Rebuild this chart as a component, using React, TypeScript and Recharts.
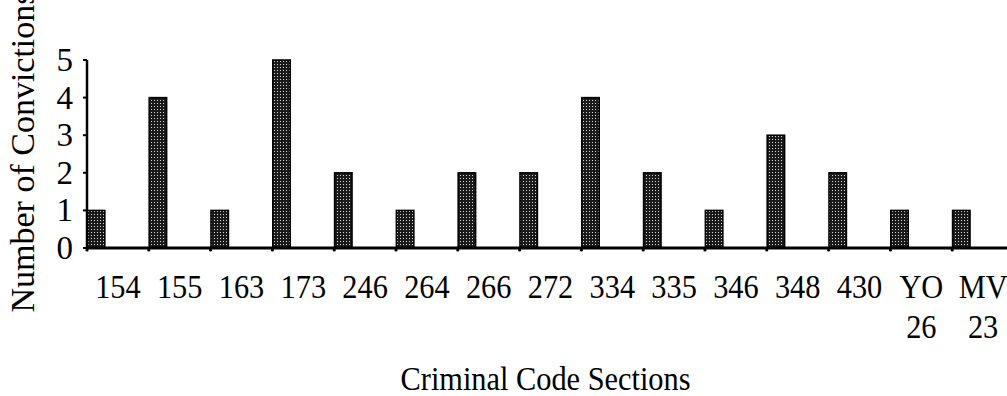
import React from 'react';
import { BarChart, Bar, XAxis, YAxis } from 'recharts';

// Criminal code sections and conviction counts
const sections = ['154', '155', '163', '173', '246', '264', '266', '272', '334', '335', '346', '348', '430', 'YO 26', 'MV 23'];
const convictions = [1, 4, 1, 5, 2, 1, 2, 2, 4, 2, 1, 3, 2, 1, 1];
const yTicks = [0, 1, 2, 3, 4, 5];

const data = sections.map((section, i) => ({ section, count: convictions[i] }));

const FONT = '"Liberation Serif", "Times New Roman", serif';
const FS = 33;
const SQUEEZE = 0.92;
const CHART_W = 1030;
const LEFT = 87;
const RIGHT_MARGIN = 16;
const PLOT_W = CHART_W - LEFT - RIGHT_MARGIN;
const BAND = PLOT_W / sections.length;
const BAR_W = 17.5;

// text slightly narrower than the font, like the scanned original
const SText = ({ x, y, anchor = 'middle', children }: any) => (
  <text
    transform={`translate(${x} ${y}) scale(${SQUEEZE} 1)`}
    textAnchor={anchor}
    fontFamily={FONT}
    fontSize={FS}
    fill="#000"
  >
    {children}
  </text>
);

// bars sit at the left edge of each band, not centred
const LeftBar = (props: any) => {
  const { x, y, width, height } = props;
  if (!height) return null;
  const shift = (BAND - width) / 2 - 0.5;
  return (
    <rect x={x - shift} y={y} width={width} height={height} fill="url(#stipple)" stroke="#000" strokeWidth={1.5} />
  );
};

const SectionTick = (props: any) => {
  const { x, payload } = props;
  const lines = String(payload.value).split(' ');
  return (
    <g>
      <circle cx={x - BAND / 2} cy={250} r={1.6} fill="#000" />
      {lines.map((l, i) => (
        <SText key={i} x={x} y={298 + i * 40}>{l}</SText>
      ))}
    </g>
  );
};

const CountTick = (props: any) => {
  const { y, payload } = props;
  return (
    <text x={73} y={y} dy={11} textAnchor="end" fontFamily={FONT} fontSize={FS} fill="#000">
      {payload.value}
    </text>
  );
};

const YTitle = (props: any) => {
  const vb = props.viewBox;
  const cx = 22;
  const cy = vb.y + vb.height / 2 - 2;
  return (
    <text x={cx} y={cy} transform={`rotate(-90 ${cx} ${cy})`} textAnchor="middle" dominantBaseline="central" fontFamily={FONT} fontSize={34} fill="#000">
      Number of Convictions
    </text>
  );
};

const XTitle = (props: any) => {
  const vb = props.viewBox;
  return <SText x={vb.x + vb.width / 2 - 5} y={390}>Criminal Code Sections</SText>;
};

const App: React.FC = () => {
  return (
    <div style={{ position: 'absolute', left: 0, top: 0, width: 1007, height: 396, overflow: 'hidden', background: '#fff' }}>
      <BarChart width={CHART_W} height={396} data={data} margin={{ top: 60, right: RIGHT_MARGIN, bottom: 0, left: 0 }} barCategoryGap={0}>
        <defs>
          <pattern id="stipple" width="3" height="3" patternUnits="userSpaceOnUse">
            <rect width="3" height="3" fill="#1a1a1a" />
            <rect x="1" y="1" width="1" height="1" fill="#d8d8d8" />
          </pattern>
        </defs>
        <XAxis
          dataKey="section"
          height={148}
          interval={0}
          tick={<SectionTick />}
          tickLine={false}
          axisLine={{ stroke: '#000', strokeWidth: 3 }}
          label={<XTitle />}
        />
        <YAxis
          width={LEFT}
          domain={[0, 5]}
          ticks={yTicks}
          interval={0}
          tickSize={4}
          tick={<CountTick />}
          tickLine={{ stroke: '#000', strokeWidth: 2 }}
          axisLine={{ stroke: '#000', strokeWidth: 2.5 }}
          label={<YTitle />}
        />
        <Bar dataKey="count" barSize={BAR_W} shape={<LeftBar />} isAnimationActive={false} />
      </BarChart>
    </div>
  );
};

export default App;
